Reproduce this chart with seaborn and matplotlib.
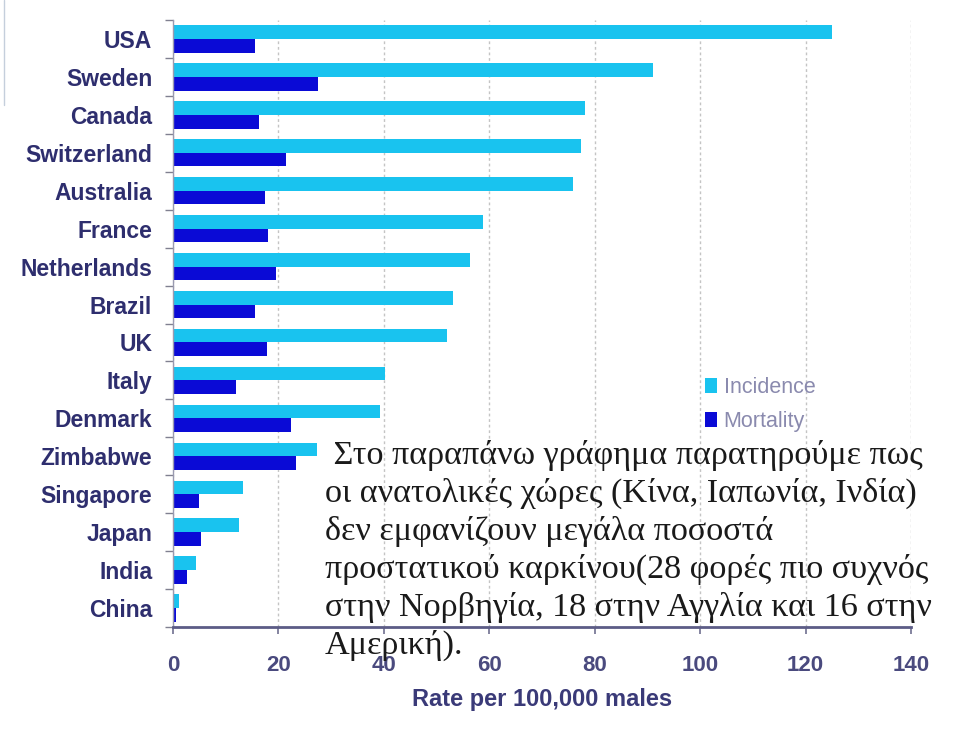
import matplotlib
matplotlib.use("Agg")
import matplotlib.pyplot as plt
import seaborn as sns
import pandas as pd
from matplotlib.lines import Line2D
from matplotlib.ticker import FixedLocator

# ---- data ----
countries = ["USA", "Sweden", "Canada", "Switzerland", "Australia", "France",
             "Netherlands", "Brazil", "UK", "Italy", "Denmark", "Zimbabwe",
             "Singapore", "Japan", "India", "China"]
incidence = [125.0, 91.0, 78.2, 77.4, 75.9, 58.8, 56.4, 53.1, 52.0, 40.2,
             39.3, 27.3, 13.3, 12.5, 4.4, 1.1]
mortality = [15.6, 27.5, 16.3, 21.4, 17.5, 18.0, 19.5, 15.6, 17.8, 12.0,
             22.4, 23.3, 4.9, 5.3, 2.7, 0.6]
series_names = ["Incidence", "Mortality"]
x_ticks = [0, 20, 40, 60, 80, 100, 120, 140]
x_label = "Rate per 100,000 males"
note_lines = [
    " Στο παραπάνω γράφημα παρατηρούμε πως",
    "οι ανατολικές χώρες (Κίνα, Ιαπωνία, Ινδία)",
    "δεν εμφανίζουν μεγάλα ποσοστά",
    "προστατικού καρκίνου(28 φορές πιο συχνός",
    "στην Νορβηγία, 18 στην Αγγλία και 16 στην",
    "Αμερική).",
]

df = pd.DataFrame({
    "Country": countries * 2,
    "Rate": incidence + mortality,
    "Measure": [series_names[0]] * len(countries) + [series_names[1]] * len(countries),
})

inc_color = "#19C3EF"
mort_color = "#0A0AD6"
label_color = "#2E2E6E"

sns.set_theme(style="white")
plt.rcParams["font.family"] = ["Liberation Sans", "DejaVu Sans"]

fig = plt.figure(figsize=(9.6, 7.3), dpi=100)
ax = fig.add_axes([173 / 960, 1 - 627 / 730, (911 - 173) / 960, (627 - 20) / 730])

sns.barplot(data=df, y="Country", x="Rate", hue="Measure", orient="h",
            palette=[inc_color, mort_color], width=0.72, saturation=1,
            order=countries, hue_order=series_names, ax=ax, legend=True,
            linewidth=0, edgecolor="none")

ax.set_xlim(0, 140)
ax.set_ylim(len(countries) - 0.5, -0.5)
ax.set_xticks(x_ticks)
ax.set_xticklabels([str(t) for t in x_ticks], fontsize=16, fontweight="bold",
                   color="#4A4A7E")
ax.set_yticks(range(len(countries)))
ax.set_yticklabels(countries, fontsize=16.5, fontweight="bold", color=label_color)
ax.yaxis.set_minor_locator(FixedLocator([i - 0.5 for i in range(len(countries) + 1)]))
ax.tick_params(axis="y", which="major", length=0, pad=15)
ax.tick_params(axis="y", which="minor", length=6, width=1, color="#808090",
               direction="out", left=True)
ax.tick_params(axis="x", which="major", length=5, width=1.2, color="#707090",
               direction="out", pad=15, bottom=True)

ax.set_xlabel(x_label, fontsize=17, fontweight="bold", color="#3A3A78", labelpad=9)
ax.set_ylabel("")

ax.set_axisbelow(True)
ax.grid(axis="x", color="#C4C4C4", linestyle=(0, (2, 2)), linewidth=1)
ax.grid(axis="y", visible=False)

for s in ["top", "right"]:
    ax.spines[s].set_visible(False)
ax.spines["left"].set_color("#9A9AB0")
ax.spines["left"].set_linewidth(1)
ax.spines["bottom"].set_color("#5C5C86")
ax.spines["bottom"].set_linewidth(2)

handles, labels = ax.get_legend_handles_labels()
ax.legend(handles, labels, loc="upper left", bbox_to_anchor=(686 / 960, 1 - 358 / 730),
          bbox_transform=fig.transFigure, frameon=False, fontsize=15.5,
          handlelength=0.55, handleheight=0.7, handletextpad=0.3,
          labelspacing=0.6, labelcolor="#8A8AAE")

# Greek commentary, one text per line
first_baseline_px = 464
line_step_px = 38
for i, line in enumerate(note_lines):
    fig.text(325 / 960, 1 - (first_baseline_px + i * line_step_px) / 730, line,
             ha="left", va="baseline", fontsize=24.6, color="#1A1A1A",
             family=["Liberation Serif", "DejaVu Serif"])

fig.add_artist(Line2D([3.5 / 960, 3.5 / 960], [1, 1 - 105 / 730],
                      color="#C5CFDC", linewidth=1, transform=fig.transFigure))

fig.savefig("out.png", dpi=100, facecolor="white")
